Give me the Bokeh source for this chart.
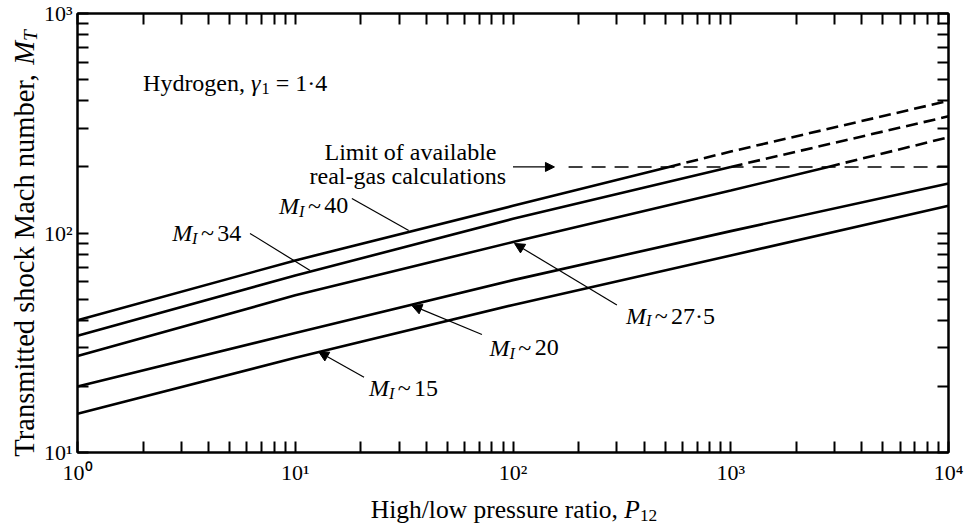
import math
from bokeh.plotting import figure
from bokeh.layouts import row, column
from bokeh.models import Label, Arrow, NormalHead, FixedTicker, LogAxis, CustomJSTickFormatter
from bokeh.embed import file_html
from bokeh.resources import INLINE

# ---------------- data ----------------
# M_I ~ 40
p40_solid = [1, 10, 100, 520]
m40_solid = [40, 75, 133, 200]
p40_dash = [520, 1000, 10000]
m40_dash = [200, 235, 400]
# M_I ~ 34
p34_solid = [1, 10, 100, 1000]
m34_solid = [34, 64, 116, 200]
p34_dash = [1000, 10000]
m34_dash = [200, 340]
# M_I ~ 27.5
p275_solid = [1, 10, 100, 1000, 2800]
m275_solid = [27.5, 52, 91, 156, 200]
p275_dash = [2800, 10000]
m275_dash = [200, 273]
# M_I ~ 20
p20 = [1, 10, 100, 1000, 10000]
m20 = [20, 35, 61, 102, 168]
# M_I ~ 15
p15 = [1, 10, 100, 1000, 10000]
m15 = [15, 27, 47, 79, 133]
# limit of available real-gas calculations
limit_p = [180, 10000]
limit_m = [200, 200]

x_major = [1, 10, 100, 1000, 10000]
y_major = [10, 100, 1000]
x_minor = [m * 10 ** k for k in range(0, 4) for m in range(2, 10)]
y_minor = [m * 10 ** k for k in range(1, 3) for m in range(2, 10)]

FONT = "Liberation Serif"

p = figure(width=925, height=487, x_axis_type="log", y_axis_type="log",
           x_range=(1, 1e4), y_range=(10, 1000),
           output_backend="svg", toolbar_location=None,
           min_border_left=35, min_border_right=17, min_border_top=13, min_border_bottom=35)
p.grid.visible = False
p.outline_line_color = "black"
p.outline_line_width = 2
p.background_fill_color = "white"
p.border_fill_color = "white"

sup_fmt = CustomJSTickFormatter(code="""
const sup = {"0":"\u2070","1":"\u00b9","2":"\u00b2","3":"\u00b3","4":"\u2074","5":"\u2075"};
const e = String(Math.round(Math.log10(tick)));
return "10" + e.split("").map(c => sup[c]).join("");
""")
blank_fmt = CustomJSTickFormatter(code="return '';")


def style_axis(ax, show, standoff=7):
    ax.axis_line_width = 2
    ax.major_tick_in = 11
    ax.major_tick_out = 0
    ax.minor_tick_in = 11
    ax.minor_tick_out = 0
    ax.major_tick_line_width = 2
    ax.minor_tick_line_width = 2
    ax.major_label_text_font = FONT
    ax.major_label_text_color = "black"
    ax.major_label_text_font_size = "22px" if show else "2px"
    ax.major_label_standoff = standoff if show else 0
    ax.formatter = sup_fmt if show else blank_fmt


p.xaxis.ticker = FixedTicker(ticks=x_major, minor_ticks=x_minor)
p.yaxis.ticker = FixedTicker(ticks=y_major, minor_ticks=y_minor)
for ax in p.xaxis:
    style_axis(ax, True, 7)
for ax in p.yaxis:
    style_axis(ax, True, 5)
top = LogAxis(ticker=FixedTicker(ticks=x_major, minor_ticks=x_minor))
right = LogAxis(ticker=FixedTicker(ticks=y_major, minor_ticks=y_minor))
style_axis(top, False)
style_axis(right, False)
p.add_layout(top, "above")
p.add_layout(right, "right")

# ---------------- curves ----------------
LW = 2.6
for xs, ys in [(p40_solid, m40_solid), (p34_solid, m34_solid), (p275_solid, m275_solid),
               (p20, m20), (p15, m15)]:
    p.line(xs, ys, line_color="black", line_width=LW)
for xs, ys in [(p40_dash, m40_dash), (p34_dash, m34_dash), (p275_dash, m275_dash)]:
    p.line(xs, ys, line_color="black", line_width=LW, line_dash="12 6")
p.line(limit_p, limit_m, line_color="black", line_width=1.5, line_dash="14 9")

# ---------------- rich text helper ----------------
WR = {' ': 250, '\u2009': 140, ',': 250, '-': 333, '.': 250, '/': 278, '=': 564, '~': 541,
      '\u00b7': 250,
      'a': 444, 'b': 500, 'c': 444, 'd': 500, 'e': 444, 'f': 333, 'g': 500, 'h': 500, 'i': 278,
      'j': 278, 'k': 500, 'l': 278, 'm': 778, 'n': 500, 'o': 500, 'p': 500, 'q': 500, 'r': 333,
      's': 389, 't': 278, 'u': 500, 'v': 500, 'w': 722, 'x': 500, 'y': 500, 'z': 444,
      'H': 722, 'L': 611, 'M': 889, 'T': 611, 'P': 556}
WI = {'M': 833, 'I': 333, 'T': 556, 'P': 611, '\u03b3': 440}
BLANKS = " \u2009"


def twidth(s, size, italic):
    tbl = WI if italic else WR
    return sum(tbl.get(c, WR.get(c, 500)) for c in s) * size / 1000.0


def rich_label(fig, pieces, x, y, size, units="data", angle=0.0, align="left"):
    sizes = [size * 0.68 if sub else size for (_, _, sub) in pieces]
    widths = [twidth(t, s, it) for (t, it, _), s in zip(pieces, sizes)]
    total = sum(widths)
    pos = {"left": 0.0, "center": -total / 2.0, "right": -total}[align]
    for (t, it, sub), s, w in zip(pieces, sizes, widths):
        stripped = t.lstrip(BLANKS)
        lead = twidth(t[:len(t) - len(stripped)], s, it)
        drop = size * 0.22 if sub else 0.0
        if angle == 0:
            xo, yo = pos + lead, -drop
        else:
            xo, yo = drop, pos + lead
        fig.add_layout(Label(x=x, y=y, x_units=units, y_units=units, text=stripped.rstrip(BLANKS),
                             angle=angle, x_offset=xo, y_offset=yo, text_font=FONT,
                             text_font_size=f"{s:.1f}px",
                             text_font_style="italic" if it else "normal",
                             text_baseline="alphabetic", text_align="left",
                             text_color="black"))
        pos += w


ANN = 24
# Hydrogen label
rich_label(p, [("Hydrogen, ", False, False), ("\u03b3", True, False), ("1", False, True),
               (" = 1\u00b74", False, False)], 2.0, 480, ANN)
# limit label
rich_label(p, [("Limit of available", False, False)], 84, 235, ANN, align="right")
rich_label(p, [("real-gas calculations", False, False)], 93, 181, ANN, align="right")
p.add_layout(Arrow(x_start=100, y_start=200, x_end=155, y_end=200, line_width=1.2,
                   end=NormalHead(size=9, fill_color="black", line_color="black")))

# curve labels: (text, label P, label M, tail P, tail M, head P, head M, arrowhead)
curve_labels = [
    ("40", 8.43, 133, 18.2, 143.6, 33.2, 102.6, False),
    ("34", 2.72, 99.5, 6.2, 99.5, 11.7, 67.5, False),
    ("27\u00b75", 330, 42, 300, 47, 101.6, 89.6, True),
    ("20", 78, 30, 72, 34.5, 34.3, 46.8, True),
    ("15", 21.8, 19.6, 20.7, 22.0, 12.8, 28.8, True),
]
for num, lx, ly, tx, ty, hx, hy, head in curve_labels:
    rich_label(p, [("M", True, False), ("I", True, True), ("\u2009~", False, False),
                   ("\u2009" + num, False, False)], lx, ly, ANN)
    p.add_layout(Arrow(x_start=tx, y_start=ty, x_end=hx, y_end=hy, line_width=1.2,
                       end=NormalHead(size=10, fill_color="black", line_color="black") if head else None))


# ---------------- axis titles in small text-only figures ----------------
def text_fig(w, h):
    f = figure(width=w, height=h, x_range=(0, 1), y_range=(0, 1), output_backend="svg",
               toolbar_location=None, x_axis_location=None, y_axis_location=None,
               min_border=0, min_border_left=0, min_border_right=0, min_border_top=0,
               min_border_bottom=0)
    f.grid.visible = False
    f.outline_line_color = None
    f.background_fill_color = "white"
    f.border_fill_color = "white"
    return f


yfig = text_fig(40, 525)
rich_label(yfig, [("Transmitted shock Mach number, ", False, False), ("M", True, False),
                  ("T", True, True)], 24, 282, 28.5, units="screen", angle=math.pi / 2, align="center")
xfig = text_fig(925, 38)
# the column aligns this figure's frame with the main frame, so x is measured from the plot's left edge
rich_label(xfig, [("High/low pressure ratio, ", False, False), ("P", True, False),
                  ("12", False, True)], 436.5, 16, 25.5, units="screen", align="center")

layout = row(yfig, column(p, xfig, spacing=0), spacing=0)
open("out.html", "w").write(file_html(layout, INLINE))
